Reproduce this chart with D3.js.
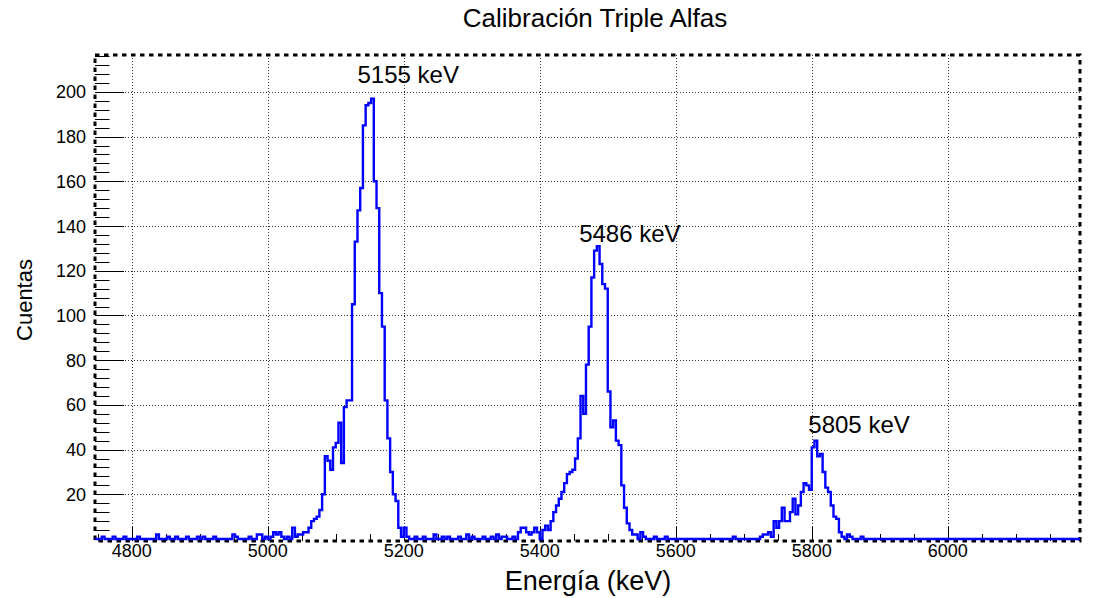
<!DOCTYPE html>
<html><head><meta charset="utf-8">
<script src="https://cdn.jsdelivr.net/npm/d3@7"></script>
<style>
body{margin:0;background:#fff;}
svg{display:block;font-family:"Liberation Sans",Arial,Helvetica,sans-serif;}
</style></head><body>
<svg id="chart" width="1096" height="598"></svg>
<script>
// ---------------- data ----------------
const chartTitle = "Calibración Triple Alfas";
const xTitle = "Energía (keV)";
const yTitle = "Cuentas";

const binWidth = 4;                 // keV per bin
const histRange = [4744, 6196];     // histogram edges (keV)
const xDomain = [4746, 6194.5];
const yDomain = [0, 216.5];

const xMajorTicks = [4800, 5000, 5200, 5400, 5600, 5800, 6000];
const yMajorTicks = [20, 40, 60, 80, 100, 120, 140, 160, 180, 200];

// peak 1 (5155 keV), bins starting at 5004 keV
const peak1Start = 5004;
const peak1Counts = [1,3,2,3,1,0,1,0,5,1, 2,2,3,3,5,8,9,10,13,20,
  37,35,31,41,43,52,34,59,62,62, 105,133,147,157,185,194,195,197,160,148,
  110,95,62,45,30,20,17,5,1,5, 1];

// peak 2 (5486 keV), bins starting at 5348 keV
const peak2Start = 5348;
const peak2Counts = [1,0,0,1,0,3,5,5,3,2, 3,5,3,0,4,6,4,8,12,15,
  18,21,25,29,30,31,36,45,64,56, 78,95,117,129,131,123,114,112,66,50,
  53,44,42,24,14,7,4,2];

// peak 3 (5805 keV), bins starting at 5724 keV
const peak3Start = 5724;
const peak3Counts = [1,2,2,3,1,8,5,8,14,8, 8,12,18,11,15,21,25,24,22,41,
  44,37,38,30,23,21,15,10,9,3, 1,0];

// isolated background counts (bin low edge, counts)
const noiseEnergies = [4756,4772,4788,4808,4836,4852,4864,4880,4896,4904,4920,4948,4952,4972,4984,4988,4996,
  5216,5228,5244,5256,5264,5280,5292,5300,5316,5328,5336,5344,
  5540,5548,5552,5568,5584,5684, 5852,5856,5872];
const noiseCounts = [1,1,1,1,2,1,1,1,1,1,1,2,1,1,2,2,1,
  1,1,2,1,1,1,2,1,1,1,2,1,
  2,3,1,1,1,1, 2,1,1];

const peakLabels = ["5155 keV", "5486 keV", "5805 keV"];
const peakLabelEnergy = [5132, 5458, 5795];
const peakLabelCounts = [204, 133, 47.5];

// ---------------- build histogram ----------------
const nBins = Math.round((histRange[1] - histRange[0]) / binWidth);
const counts = new Array(nBins).fill(0);
const idx = e => Math.round((e - histRange[0]) / binWidth);
noiseEnergies.forEach((e, i) => { counts[idx(e)] = noiseCounts[i]; });
[[peak1Start, peak1Counts], [peak2Start, peak2Counts], [peak3Start, peak3Counts]].forEach(([s, arr]) => {
  arr.forEach((c, i) => { counts[idx(s) + i] = c; });
});
const bins = counts.map((c, i) => ({ e: histRange[0] + i * binWidth, c }));
bins.push({ e: histRange[1], c: counts[nBins - 1] });

// ---------------- layout ----------------
const frame = { left: 95, right: 1080, top: 55, bottom: 541 };
const svg = d3.select("#chart");
const x = d3.scaleLinear().domain(xDomain).range([frame.left, frame.right]);
const y = d3.scaleLinear().domain(yDomain).range([539, frame.top]);

svg.append("defs").append("clipPath").attr("id", "clip")
  .append("rect").attr("x", frame.left).attr("y", frame.top)
  .attr("width", frame.right - frame.left).attr("height", frame.bottom - frame.top);

// grid
const grid = svg.append("g").attr("stroke", "#333").attr("stroke-width", 1).attr("stroke-dasharray", "1 2");
grid.selectAll("line.v").data(xMajorTicks).join("line").attr("class", "v")
  .attr("x1", d => Math.round(x(d)) + 0.5).attr("x2", d => Math.round(x(d)) + 0.5)
  .attr("y1", frame.top).attr("y2", frame.bottom);
grid.selectAll("line.h").data(yMajorTicks).join("line").attr("class", "h")
  .attr("x1", frame.left).attr("x2", frame.right)
  .attr("y1", d => Math.round(y(d)) + 0.5).attr("y2", d => Math.round(y(d)) + 0.5);

// axes ticks (ROOT style, inside frame)
const yMinor = d3.range(4, 217, 4).filter(v => v % 20 !== 0);
const xMinor = d3.range(4750, 6195, 50).filter(v => v % 200 !== 0);
const tk = svg.append("g").attr("stroke", "#000").attr("stroke-width", 1);
tk.selectAll("line.ym").data(yMajorTicks).join("line").attr("class", "ym")
  .attr("x1", frame.left).attr("x2", frame.left + 29)
  .attr("y1", d => Math.round(y(d)) + 0.5).attr("y2", d => Math.round(y(d)) + 0.5);
tk.selectAll("line.yn").data(yMinor).join("line").attr("class", "yn")
  .attr("x1", frame.left).attr("x2", frame.left + 14.5)
  .attr("y1", d => Math.round(y(d)) + 0.5).attr("y2", d => Math.round(y(d)) + 0.5);
tk.selectAll("line.xm").data(xMajorTicks).join("line").attr("class", "xm")
  .attr("x1", d => Math.round(x(d)) + 0.5).attr("x2", d => Math.round(x(d)) + 0.5)
  .attr("y1", frame.bottom).attr("y2", frame.bottom - 14);
tk.selectAll("line.xn").data(xMinor).join("line").attr("class", "xn")
  .attr("x1", d => Math.round(x(d)) + 0.5).attr("x2", d => Math.round(x(d)) + 0.5)
  .attr("y1", frame.bottom).attr("y2", frame.bottom - 7);

// tick labels
svg.append("g").attr("font-size", 18).attr("fill", "#000").attr("text-anchor", "end")
  .selectAll("text").data(yMajorTicks).join("text")
  .attr("x", 86).attr("y", d => y(d)).attr("dy", "0.36em").text(d => d);
svg.append("g").attr("font-size", 18).attr("fill", "#000").attr("text-anchor", "middle")
  .selectAll("text").data(xMajorTicks).join("text")
  .attr("x", d => x(d)).attr("y", 557).text(d => d);

// frame (dashed, ROOT style)
svg.append("rect").attr("x", frame.left).attr("y", frame.top)
  .attr("width", frame.right - frame.left).attr("height", frame.bottom - frame.top)
  .attr("fill", "none").attr("stroke", "#000").attr("stroke-width", 3)
  .attr("stroke-dasharray", "4.5 4.5");

// histogram
const line = d3.line().x(d => x(d.e)).y(d => y(d.c)).curve(d3.curveStepAfter);
svg.append("path").datum(bins).attr("clip-path", "url(#clip)")
  .attr("d", line).attr("fill", "none").attr("stroke", "#0000ff").attr("stroke-width", 2.4);

// peak labels
svg.append("g").attr("font-size", 24).attr("fill", "#000")
  .selectAll("text").data(peakLabels).join("text")
  .attr("x", (d, i) => x(peakLabelEnergy[i])).attr("y", (d, i) => y(peakLabelCounts[i]))
  .text(d => d);

// titles
svg.append("text").attr("x", 595).attr("y", 27).attr("text-anchor", "middle")
  .attr("font-size", 26).text(chartTitle);
svg.append("text").attr("x", 588).attr("y", 590).attr("text-anchor", "middle")
  .attr("font-size", 27).text(xTitle);
svg.append("text").attr("transform", "translate(32,300) rotate(-90)").attr("text-anchor", "middle")
  .attr("font-size", 22).text(yTitle);
</script>
</body></html>
